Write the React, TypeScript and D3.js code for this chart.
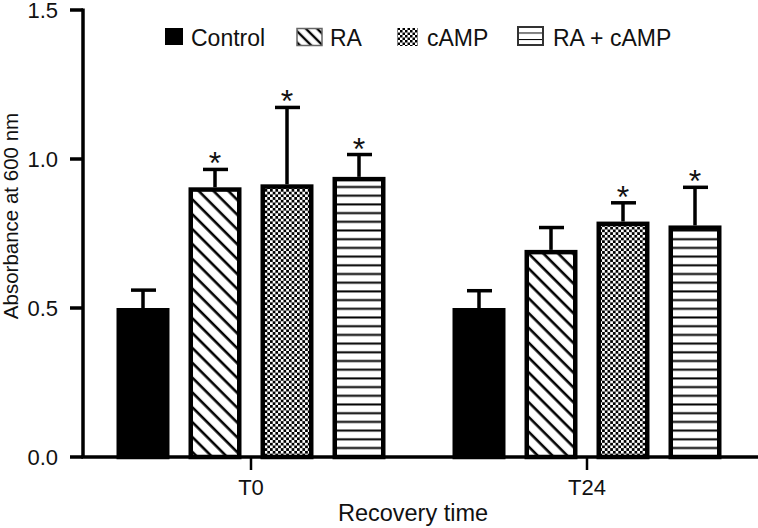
import React, { useEffect } from "react";
import * as d3 from "d3";

const groups = ["T0", "T24"];
const seriesNames = ["Control", "RA", "cAMP", "RA + cAMP"];
const controlValues = [0.5, 0.5];
const raValues = [0.905, 0.695];
const campValues = [0.915, 0.79];
const raCampValues = [0.94, 0.777];
const controlErr = [0.06, 0.058];
const raErr = [0.06, 0.075];
const campErr = [0.258, 0.063];
const raCampErr = [0.075, 0.128];
const controlSig = [false, false];
const raSig = [true, false];
const campSig = [true, true];
const raCampSig = [true, true];
const yTicks = [0, 0.5, 1.0, 1.5];

const W = 758;
const H = 528;
const FONT = "'Liberation Sans', Arial, Helvetica, sans-serif";

export default function App() {
  useEffect(() => {
    document.body.style.margin = "0";
  }, []);

  const values = [controlValues, raValues, campValues, raCampValues];
  const errs = [controlErr, raErr, campErr, raCampErr];
  const sigs = [controlSig, raSig, campSig, raCampSig];
  const fills = ["#000", "url(#diag)", "url(#check)", "url(#horiz)"];

  const y = d3.scaleLinear().domain([0, 1.5]).range([457, 10]);
  const x0 = d3
    .scaleBand<string>()
    .domain(groups)
    .range([83, 755])
    .paddingInner(1 / 7)
    .paddingOuter(1 / 14);
  const x1 = d3
    .scaleBand<string>()
    .domain(seriesNames)
    .range([0, x0.bandwidth()])
    .paddingInner(0.264)
    .paddingOuter(0.132);

  const sw = 4.5;
  const bars: React.ReactNode[] = [];
  groups.forEach((g, gi) => {
    seriesNames.forEach((s, si) => {
      const v = values[si][gi];
      const e = errs[si][gi];
      const bx = (x0(g) as number) + (x1(s) as number);
      const bw = x1.bandwidth();
      const cx = bx + bw / 2;
      const top = y(v);
      const et = y(v + e);
      bars.push(
        <g key={g + s}>
          <line x1={cx} x2={cx} y1={top} y2={et} stroke="#000" strokeWidth={3.5} />
          <line x1={cx - 12} x2={cx + 13} y1={et} y2={et} stroke="#000" strokeWidth={3.5} />
          <rect
            x={bx + sw / 2}
            y={top + sw / 2}
            width={bw - sw}
            height={y(0) - top - sw / 2}
            fill={fills[si]}
            stroke="#000"
            strokeWidth={sw}
          />
          {sigs[si][gi] && (
            <text
              x={cx}
              y={et + 5}
              textAnchor="middle"
              fontFamily={FONT}
              fontSize={32}
              fill="#111"
            >
              *
            </text>
          )}
        </g>
      );
    });
  });

  const legendItems = [
    { name: "Control", sx: 165, sw: 18, tx: 191 },
    { name: "RA", sx: 297, sw: 25, tx: 330 },
    { name: "cAMP", sx: 397, sw: 21, tx: 427 },
    { name: "RA + cAMP", sx: 518, sw: 25, tx: 553 },
  ];

  return (
    <svg
      width={W}
      height={H}
      viewBox={`0 0 ${W} ${H}`}
      style={{ position: "absolute", left: 0, top: 0, background: "#fff" }}
    >
      <defs>
        <pattern id="diag" patternUnits="userSpaceOnUse" width={10.5} height={10.5} patternTransform="rotate(45)">
          <rect width={10.5} height={10.5} fill="#fff" />
          <line x1={0} x2={10.5} y1={5} y2={5} stroke="#000" strokeWidth={2.6} />
        </pattern>
        <pattern id="check" patternUnits="userSpaceOnUse" width={5.4} height={5.4}>
          <rect width={5.4} height={5.4} fill="#fff" />
          <rect x={0} y={0} width={2.7} height={2.7} fill="#000" />
          <rect x={2.7} y={2.7} width={2.7} height={2.7} fill="#000" />
        </pattern>
        <pattern id="horiz" patternUnits="userSpaceOnUse" width={10} height={8.7}>
          <rect width={10} height={8.7} fill="#fff" />
          <line x1={0} x2={10} y1={4.3} y2={4.3} stroke="#000" strokeWidth={2} />
        </pattern>
        <pattern id="diagL" patternUnits="userSpaceOnUse" width={8} height={8} patternTransform="rotate(45)">
          <rect width={8} height={8} fill="#fff" />
          <line x1={0} x2={8} y1={4} y2={4} stroke="#000" strokeWidth={2.4} />
        </pattern>
        <pattern id="horizL" patternUnits="userSpaceOnUse" width={10} height={6.5}>
          <rect width={10} height={6.5} fill="#fff" />
          <line x1={0} x2={10} y1={0} y2={0} stroke="#000" strokeWidth={2} />
        </pattern>
        <pattern id="checkL" patternUnits="userSpaceOnUse" width={5} height={5}>
          <rect width={5} height={5} fill="#fff" />
          <rect x={0} y={0} width={2.5} height={2.5} fill="#000" />
          <rect x={2.5} y={2.5} width={2.5} height={2.5} fill="#000" />
        </pattern>
      </defs>

      {bars}

      {/* Y axis */}
      <line x1={83} x2={83} y1={y(1.5) - 1.5} y2={y(0)} stroke="#000" strokeWidth={3.5} />
      {yTicks.map((t) => (
        <g key={t}>
          <line x1={70} x2={83} y1={y(t)} y2={y(t)} stroke="#000" strokeWidth={3.5} />
          <text
            x={58}
            y={y(t)}
            dy="0.36em"
            textAnchor="end"
            fontFamily={FONT}
            fontSize={22}
            fill="#111"
          >
            {d3.format(".1f")(t)}
          </text>
        </g>
      ))}

      {/* X axis */}
      <line x1={81.3} x2={758} y1={y(0)} y2={y(0)} stroke="#000" strokeWidth={3.5} />
      {groups.map((g) => {
        const cx = (x0(g) as number) + x0.bandwidth() / 2;
        return (
          <g key={g}>
            <line x1={cx} x2={cx} y1={y(0)} y2={y(0) + 13} stroke="#000" strokeWidth={2.5} />
            <text x={cx} y={495} textAnchor="middle" fontFamily={FONT} fontSize={22} fill="#111">
              {g}
            </text>
          </g>
        );
      })}

      <text x={413} y={521} textAnchor="middle" fontFamily={FONT} fontSize={23.5} fill="#111">
        Recovery time
      </text>
      <text
        transform={`translate(18,216) rotate(-90)`}
        textAnchor="middle"
        fontFamily={FONT}
        fontSize={20.5}
        fill="#111"
      >
        Absorbance at 600 nm
      </text>

      {/* Legend */}
      {legendItems.map((it, i) => (
        <g key={it.name}>
          {i === 0 && <rect x={it.sx} y={28} width={it.sw} height={17} fill="#000" />}
          {i === 1 && (
            <rect x={it.sx} y={28.5} width={it.sw} height={17} fill="url(#diagL)" stroke="#666" strokeWidth={1.5} />
          )}
          {i === 2 && <rect x={it.sx} y={28} width={it.sw} height={18} fill="url(#checkL)" />}
          {i === 3 && (
            <rect x={it.sx} y={27} width={it.sw} height={18} fill="url(#horizL)" stroke="#333" strokeWidth={2} />
          )}
          <text x={it.tx} y={46} fontFamily={FONT} fontSize={23} fill="#111">
            {it.name}
          </text>
        </g>
      ))}
    </svg>
  );
}
